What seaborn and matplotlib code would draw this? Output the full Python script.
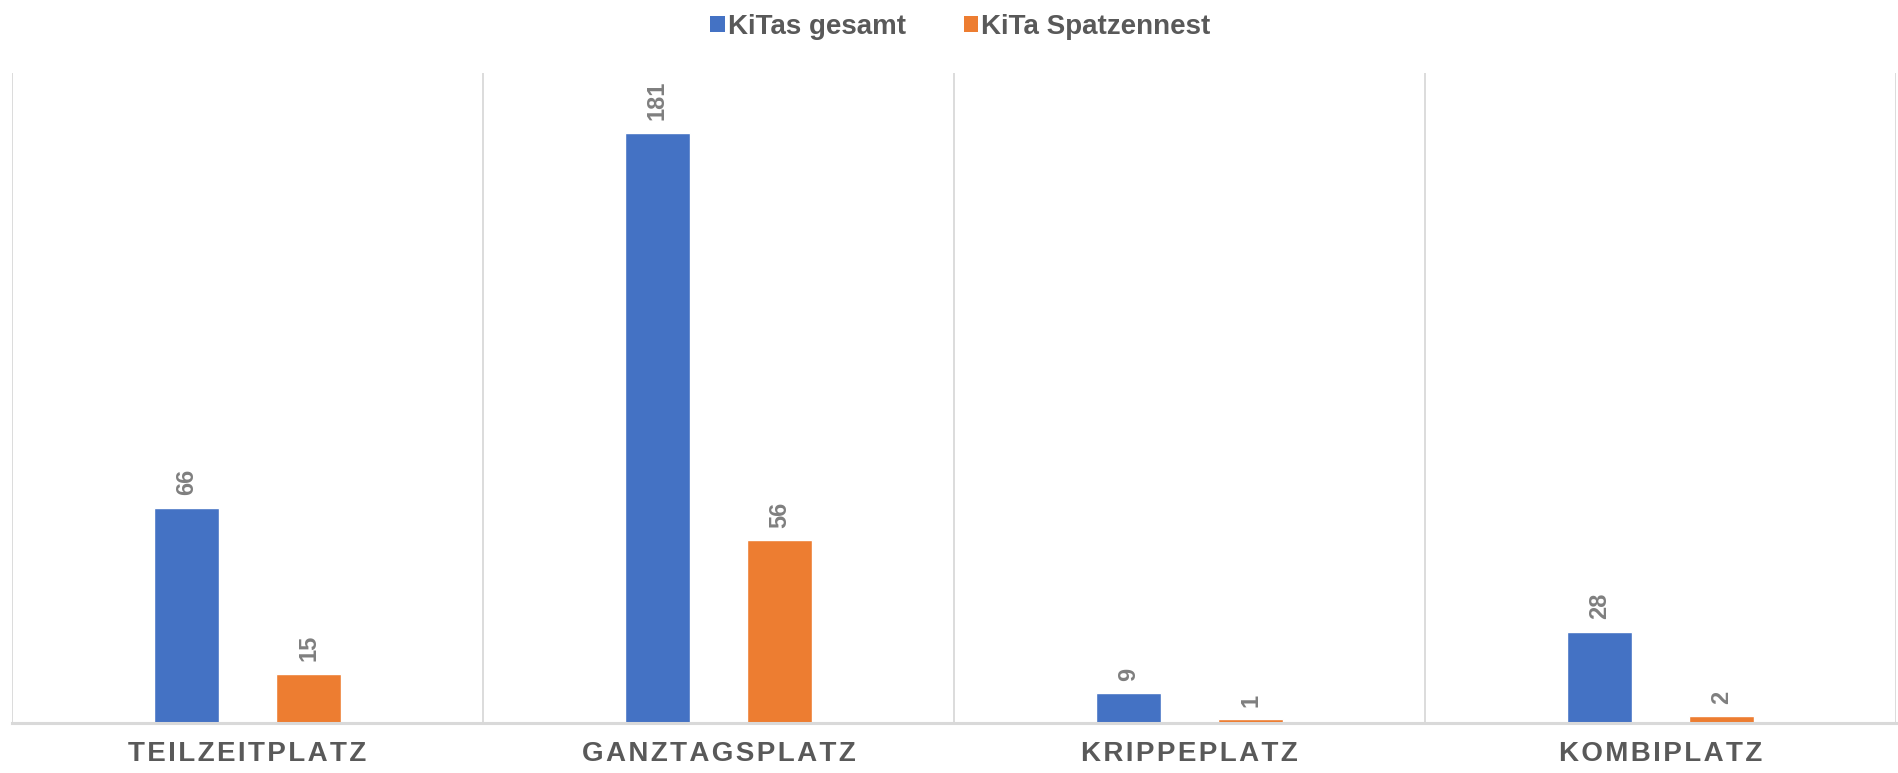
import numpy as np
import pandas as pd
import matplotlib
matplotlib.use('Agg')
import matplotlib.pyplot as plt
import seaborn as sns
from matplotlib.patches import Patch

# Daten
kategorien = ['TEILZEITPLATZ', 'GANZTAGSPLATZ', 'KRIPPEPLATZ', 'KOMBIPLATZ']
kitas_gesamt = [66, 181, 9, 28]
kita_spatzennest = [15, 56, 1, 2]
serien = ['KiTas gesamt', 'KiTa Spatzennest']
farben = ['#4472C4', '#ED7D31']

df = pd.DataFrame({
    'kategorie': kategorien * 2,
    'serie': [serien[0]] * 4 + [serien[1]] * 4,
    'wert': kitas_gesamt + kita_spatzennest,
})

sns.set_theme(style='white')
plt.rcParams['font.family'] = ['Liberation Sans', 'DejaVu Sans']

fig = plt.figure(figsize=(18.98, 7.73), dpi=100)
ax = fig.add_axes([0.0063, 0.065, 0.9926, 0.841])

sns.barplot(data=df, x='kategorie', y='wert', hue='serie', palette=farben,
            width=0.52, gap=0.47, order=kategorien, hue_order=serien,
            ax=ax, legend=False, saturation=1)

for cont in ax.containers:
    ax.bar_label(cont, rotation=90, padding=9, fontsize=17, fontweight='bold',
                 color='#7F7F7F')

ax.set_xlim(-0.5, 3.5)
ax.set_ylim(0, 199.5)
ax.set_xlabel('')
ax.set_ylabel('')
ax.set_yticks([])

# Trennlinien zwischen Kategorien
ax.set_xticks(np.arange(-0.5, 4.0, 1.0), minor=True)
ax.grid(True, which='minor', axis='x', color='#D9D9D9', linewidth=1.3)
ax.grid(False, which='major')
ax.tick_params(axis='x', which='both', length=0, pad=13)
ax.set_xticks(range(4))
ax.set_xticklabels(['\u200a'.join(k) for k in kategorien], fontsize=20,
                   fontweight='bold', color='#595959')

for s in ['top', 'left', 'right']:
    ax.spines[s].set_visible(False)
ax.spines['bottom'].set_color('#D9D9D9')
ax.spines['bottom'].set_linewidth(2.2)

handles = [Patch(facecolor=c, edgecolor='none') for c in farben]
leg = fig.legend(handles, serien, loc='upper center', bbox_to_anchor=(0.506, 1.014),
                 ncol=2, frameon=False, handlelength=0.52, handleheight=0.52,
                 handletextpad=0.1, columnspacing=2.1,
                 prop={'size': 20, 'weight': 'bold'})
for t in leg.get_texts():
    t.set_color('#595959')

fig.savefig('out.png', dpi=100)
